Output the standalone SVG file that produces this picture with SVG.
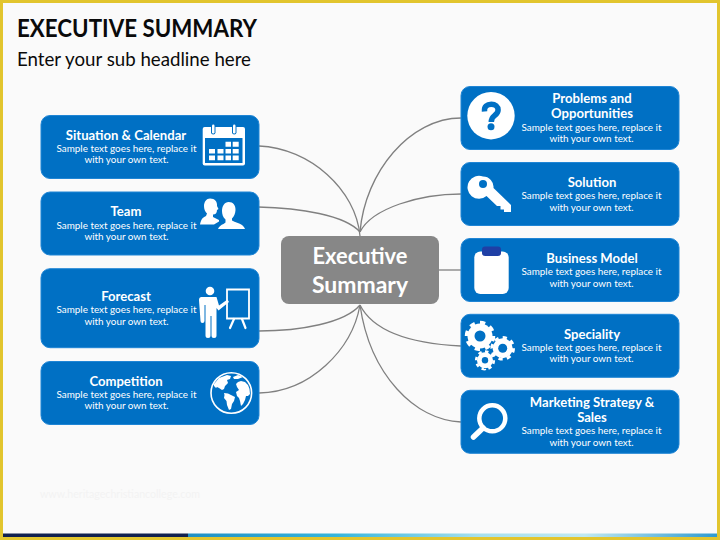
<svg xmlns="http://www.w3.org/2000/svg" width="720" height="540" viewBox="0 0 720 540">
<style>
text{font-family:Lato,"Liberation Sans",sans-serif}
.box{fill:#0070c4;stroke:#1f85d5;stroke-width:1}
.h{font-size:13.100px;font-weight:700;fill:#fff;text-anchor:middle}
.s{font-size:9.900px;fill:#fff;text-anchor:middle}
.w{fill:#fff}
.b{fill:#0070c4}
.con{fill:none;stroke:#808080;stroke-width:1.3}
.teeth{fill:none;stroke:#fff;stroke-dasharray:1 1}
</style>
<defs>
<linearGradient id="strip" x1="0" x2="1" y1="0" y2="0">
<stop offset="0" stop-color="#1f8fc4"/><stop offset="0.28" stop-color="#35b5dc"/><stop offset="0.55" stop-color="#a5e0ee"/><stop offset="0.75" stop-color="#bfe9f2"/><stop offset="1" stop-color="#2e9ad0"/>
</linearGradient>
</defs>
<rect width="720" height="540" fill="#fafafa"/>
<rect x="188" y="533.500" width="529" height="3.500" fill="url(#strip)"/>
<rect x="3" y="533.500" width="185" height="3.500" fill="#10204f"/>
<path d="M0,0H720V540H0Z M3,3V537H717V3Z" fill="#e2c52e" fill-rule="evenodd"/>
<text x="17" y="36.500" font-size="24" font-weight="700" fill="#0a0a0a" textLength="240" lengthAdjust="spacingAndGlyphs">EXECUTIVE SUMMARY</text>
<text x="17" y="66" font-size="19" fill="#0a0a0a" textLength="234" lengthAdjust="spacingAndGlyphs">Enter your sub headline here</text>
<text x="40" y="498" font-size="11.500" fill="#f3f3f3" textLength="160" lengthAdjust="spacingAndGlyphs">www.heritagechristiancollege.com</text>

<g id="connectors">
<path class="con" d="M259,146C310,148 356,190 360,236"/>
<path class="con" d="M258,207C300,208 345,215 360,232"/>
<path class="con" d="M259,331C300,331 345,323 360,305"/>
<path class="con" d="M259,393C310,392 352,350 360,305"/>
<path class="con" d="M461,118C410,118 365,172 360,232"/>
<path class="con" d="M461,194C420,194 372,208 360,232"/>
<path class="con" d="M439,270H461"/>
<path class="con" d="M461,346C420,344 375,335 360,305"/>
<path class="con" d="M461,422C415,420 370,375 360,305"/>
</g>

<g id="center">
<rect x="281" y="236" width="158" height="68" rx="8" fill="#878787"/>
<text x="360" y="264" font-size="23.500" font-weight="700" fill="#fff" text-anchor="middle" textLength="95" lengthAdjust="spacingAndGlyphs">Executive</text>
<text x="360" y="293" font-size="23.500" font-weight="700" fill="#fff" text-anchor="middle" textLength="96" lengthAdjust="spacingAndGlyphs">Summary</text>
</g>

<g id="situation">
<rect class="box" x="41" y="115.500" width="218" height="63" rx="9"/>
<text class="h" x="126" y="140">Situation &amp; Calendar</text>
<text class="s" x="126.500" y="152">Sample text goes here, replace it</text>
<text class="s" x="126.500" y="163.300">with your own text.</text>
<rect class="w" x="202.700" y="127" width="42.300" height="38.500" rx="2"/>
<rect class="b" x="205" y="138" width="37.500" height="25"/>
<rect class="b" x="211" y="123.500" width="4.500" height="11" rx="2.200"/><rect class="b" x="232" y="123.500" width="4.500" height="11" rx="2.200"/>
<rect class="w" x="212" y="124.500" width="2.500" height="9" rx="1.200"/><rect class="w" x="233" y="124.500" width="2.500" height="9" rx="1.200"/>
<path class="w" d="M225.500,141.700h5.500v5h-5.500zM232.700,141.700h6v5h-6zM209,149h6v4.500h-6zM217.500,149h6v4.500h-6zM225.500,149h5.500v4.500h-5.500zM232.700,149h6v4.500h-6zM209,155.500h6v4.700h-6zM217.500,155.500h6v4.700h-6zM225.500,155.500h5.500v4.700h-5.500zM232.700,155.500h6v4.700h-6z"/>
</g>

<g id="team">
<rect class="box" x="41" y="192" width="218" height="63" rx="9"/>
<text class="h" x="126" y="216">Team</text>
<text class="s" x="126.500" y="228.600">Sample text goes here, replace it</text>
<text class="s" x="126.500" y="240">with your own text.</text>
<path class="w" d="M210,198.500c5,0 7.500,3.500 7,7.500l1.500,3-1.500,1c0,3-1.500,4.500-4,4.500v2.500l6,3 0,1.500-5,3H200c.8-4 2-7 6-8.500l1-2.500c-2-2-3-4-3-7.500 0-4 2.500-7.500 6-7.500z"/>
<path class="w" d="M228.700,202c4.500,0 7,3.500 6.800,8-.2,3.500-1.300,6.500-3.500,8.500v2c3,2 7.500,2.500 10,4.500 1.500,1.200 2.500,3 3,4H218c1-2.500 3-4 5.500-5l2-1.500v-3c-2.500-2-3.500-5.500-3.500-8.500 0-5 2.500-9 6.700-9z"/>
</g>

<g id="forecast">
<rect class="box" x="41" y="268.700" width="218" height="79" rx="9"/>
<text class="h" x="126" y="300.700">Forecast</text>
<text class="s" x="126.500" y="313.300">Sample text goes here, replace it</text>
<text class="s" x="126.500" y="324.700">with your own text.</text>
<circle class="w" cx="210" cy="291" r="4.300"/>
<path class="w" d="M201.500,297H216.500L219,305.500 227.500,299.500 229,302 218.500,310.500 216.500,308V335.500a2.500,2.500 0 0 1-5,0V316H210.500V335.500a2.500,2.500 0 0 1-5,0V305H204.500V321a2,2 0 0 1-4,0L199,300C199,298 200,297 201.500,297Z"/>
<path fill="none" stroke="#fff" stroke-width="1.800" d="M227,289.500H249V318.500H227Z"/>
<path fill="none" stroke="#fff" stroke-width="2.200" stroke-linecap="round" d="M234,319l-4,9M242,319l3.500,9"/>
</g>

<g id="competition">
<rect class="box" x="41" y="361.500" width="218" height="63" rx="9"/>
<text class="h" x="126" y="386">Competition</text>
<text class="s" x="126.500" y="398">Sample text goes here, replace it</text>
<text class="s" x="126.500" y="409">with your own text.</text>
<circle cx="231.300" cy="393" r="20.300" fill="#0070c4" stroke="#fff" stroke-width="1.600"/>
<path class="w" d="M214,384l5-6 8-3 4,1-1,3-3,1 1,3-3,3-1,3-2,1-3-2-2-1-1,1-2-2zM224,393l4,.5 3,1.500 4,2-1,4-2,3-1,5-2,1-2-5-.5-4-2.500-3 .5-3zM238,382l3-1 4,1 3,3 1.500,4 .5,5-2,2-2,0-1,4-2,4-2,2-1-5-1-3-2-2-1-4 3-2-2-3-1-3zM233,377l5-2 5,2-5,2-4,0z"/>
</g>

<g id="problems">
<rect class="box" x="461" y="86.500" width="218" height="63" rx="9"/>
<text class="h" x="592" y="103">Problems and</text>
<text class="h" x="592" y="118">Opportunities</text>
<text class="s" x="591.500" y="130.700">Sample text goes here, replace it</text>
<text class="s" x="591.500" y="142">with your own text.</text>
<circle class="w" cx="491" cy="115.700" r="23.700"/>
<path fill="none" stroke="#0070c4" stroke-width="5.500" d="M484.500,111.500c-.5-5 2.500-7.300 6.800-7.300 4,0 6.800,2.300 6.800,5.800 0,3-2,4.400-3.600,5.600-2,1.500-3.200,2.700-3.200,6.400"/>
<circle class="b" cx="491" cy="126.700" r="3.500"/>
</g>

<g id="solution">
<rect class="box" x="461" y="162.500" width="218" height="63" rx="9"/>
<text class="h" x="592" y="186.700">Solution</text>
<text class="s" x="591.500" y="199.300">Sample text goes here, replace it</text>
<text class="s" x="591.500" y="210.700">with your own text.</text>
<path class="w" d="M483,176.500a10.500,10.500 0 0 1 10.500,11.500l17.500,17v7h-7v-2.500h-3.500v-3.500h-3.500l-10.500,-10a11.500,11.500 0 1 1-3.500-19.500z"/>
<circle class="b" cx="483" cy="184" r="4"/>
</g>

<g id="business">
<rect class="box" x="461" y="238.500" width="218" height="63" rx="9"/>
<text class="h" x="592" y="262.700">Business Model</text>
<text class="s" x="591.500" y="275">Sample text goes here, replace it</text>
<text class="s" x="591.500" y="286.700">with your own text.</text>
<rect class="w" x="474.300" y="251.500" width="34.400" height="42.500" rx="6"/>
<rect x="482" y="246.500" width="19" height="9.500" rx="3" fill="#1f3fa5"/>
</g>

<g id="speciality">
<rect class="box" x="461" y="314.300" width="218" height="63" rx="9"/>
<text class="h" x="592" y="338.700">Speciality</text>
<text class="s" x="591.500" y="351">Sample text goes here, replace it</text>
<text class="s" x="591.500" y="362.300">with your own text.</text>
<circle class="w" cx="480" cy="336" r="12.500"/>
<circle class="teeth" cx="480" cy="336" r="13.500" stroke-width="3.500" pathLength="16"/>
<circle class="b" cx="480" cy="336" r="5.500"/>
<circle class="w" cx="502.700" cy="348.300" r="10"/>
<circle class="teeth" cx="502.700" cy="348.300" r="10.800" stroke-width="3" pathLength="16"/>
<circle class="b" cx="502.700" cy="348.300" r="4.500"/>
<circle class="w" cx="485" cy="360.300" r="8"/>
<circle class="teeth" cx="485" cy="360.300" r="8.800" stroke-width="2.600" pathLength="16"/>
<circle class="b" cx="485" cy="360.300" r="3.200"/>
</g>

<g id="marketing">
<rect class="box" x="461" y="390.300" width="218" height="63" rx="9"/>
<text class="h" x="592" y="406.700">Marketing Strategy &amp;</text>
<text class="h" x="592" y="422">Sales</text>
<text class="s" x="591.500" y="434.300">Sample text goes here, replace it</text>
<text class="s" x="591.500" y="445.700">with your own text.</text>
<circle cx="492.300" cy="418.300" r="13" fill="none" stroke="#fff" stroke-width="4.500"/>
<path d="M483,428L473.500,437" fill="none" stroke="#fff" stroke-width="5.500" stroke-linecap="round"/>
</g>
</svg>
